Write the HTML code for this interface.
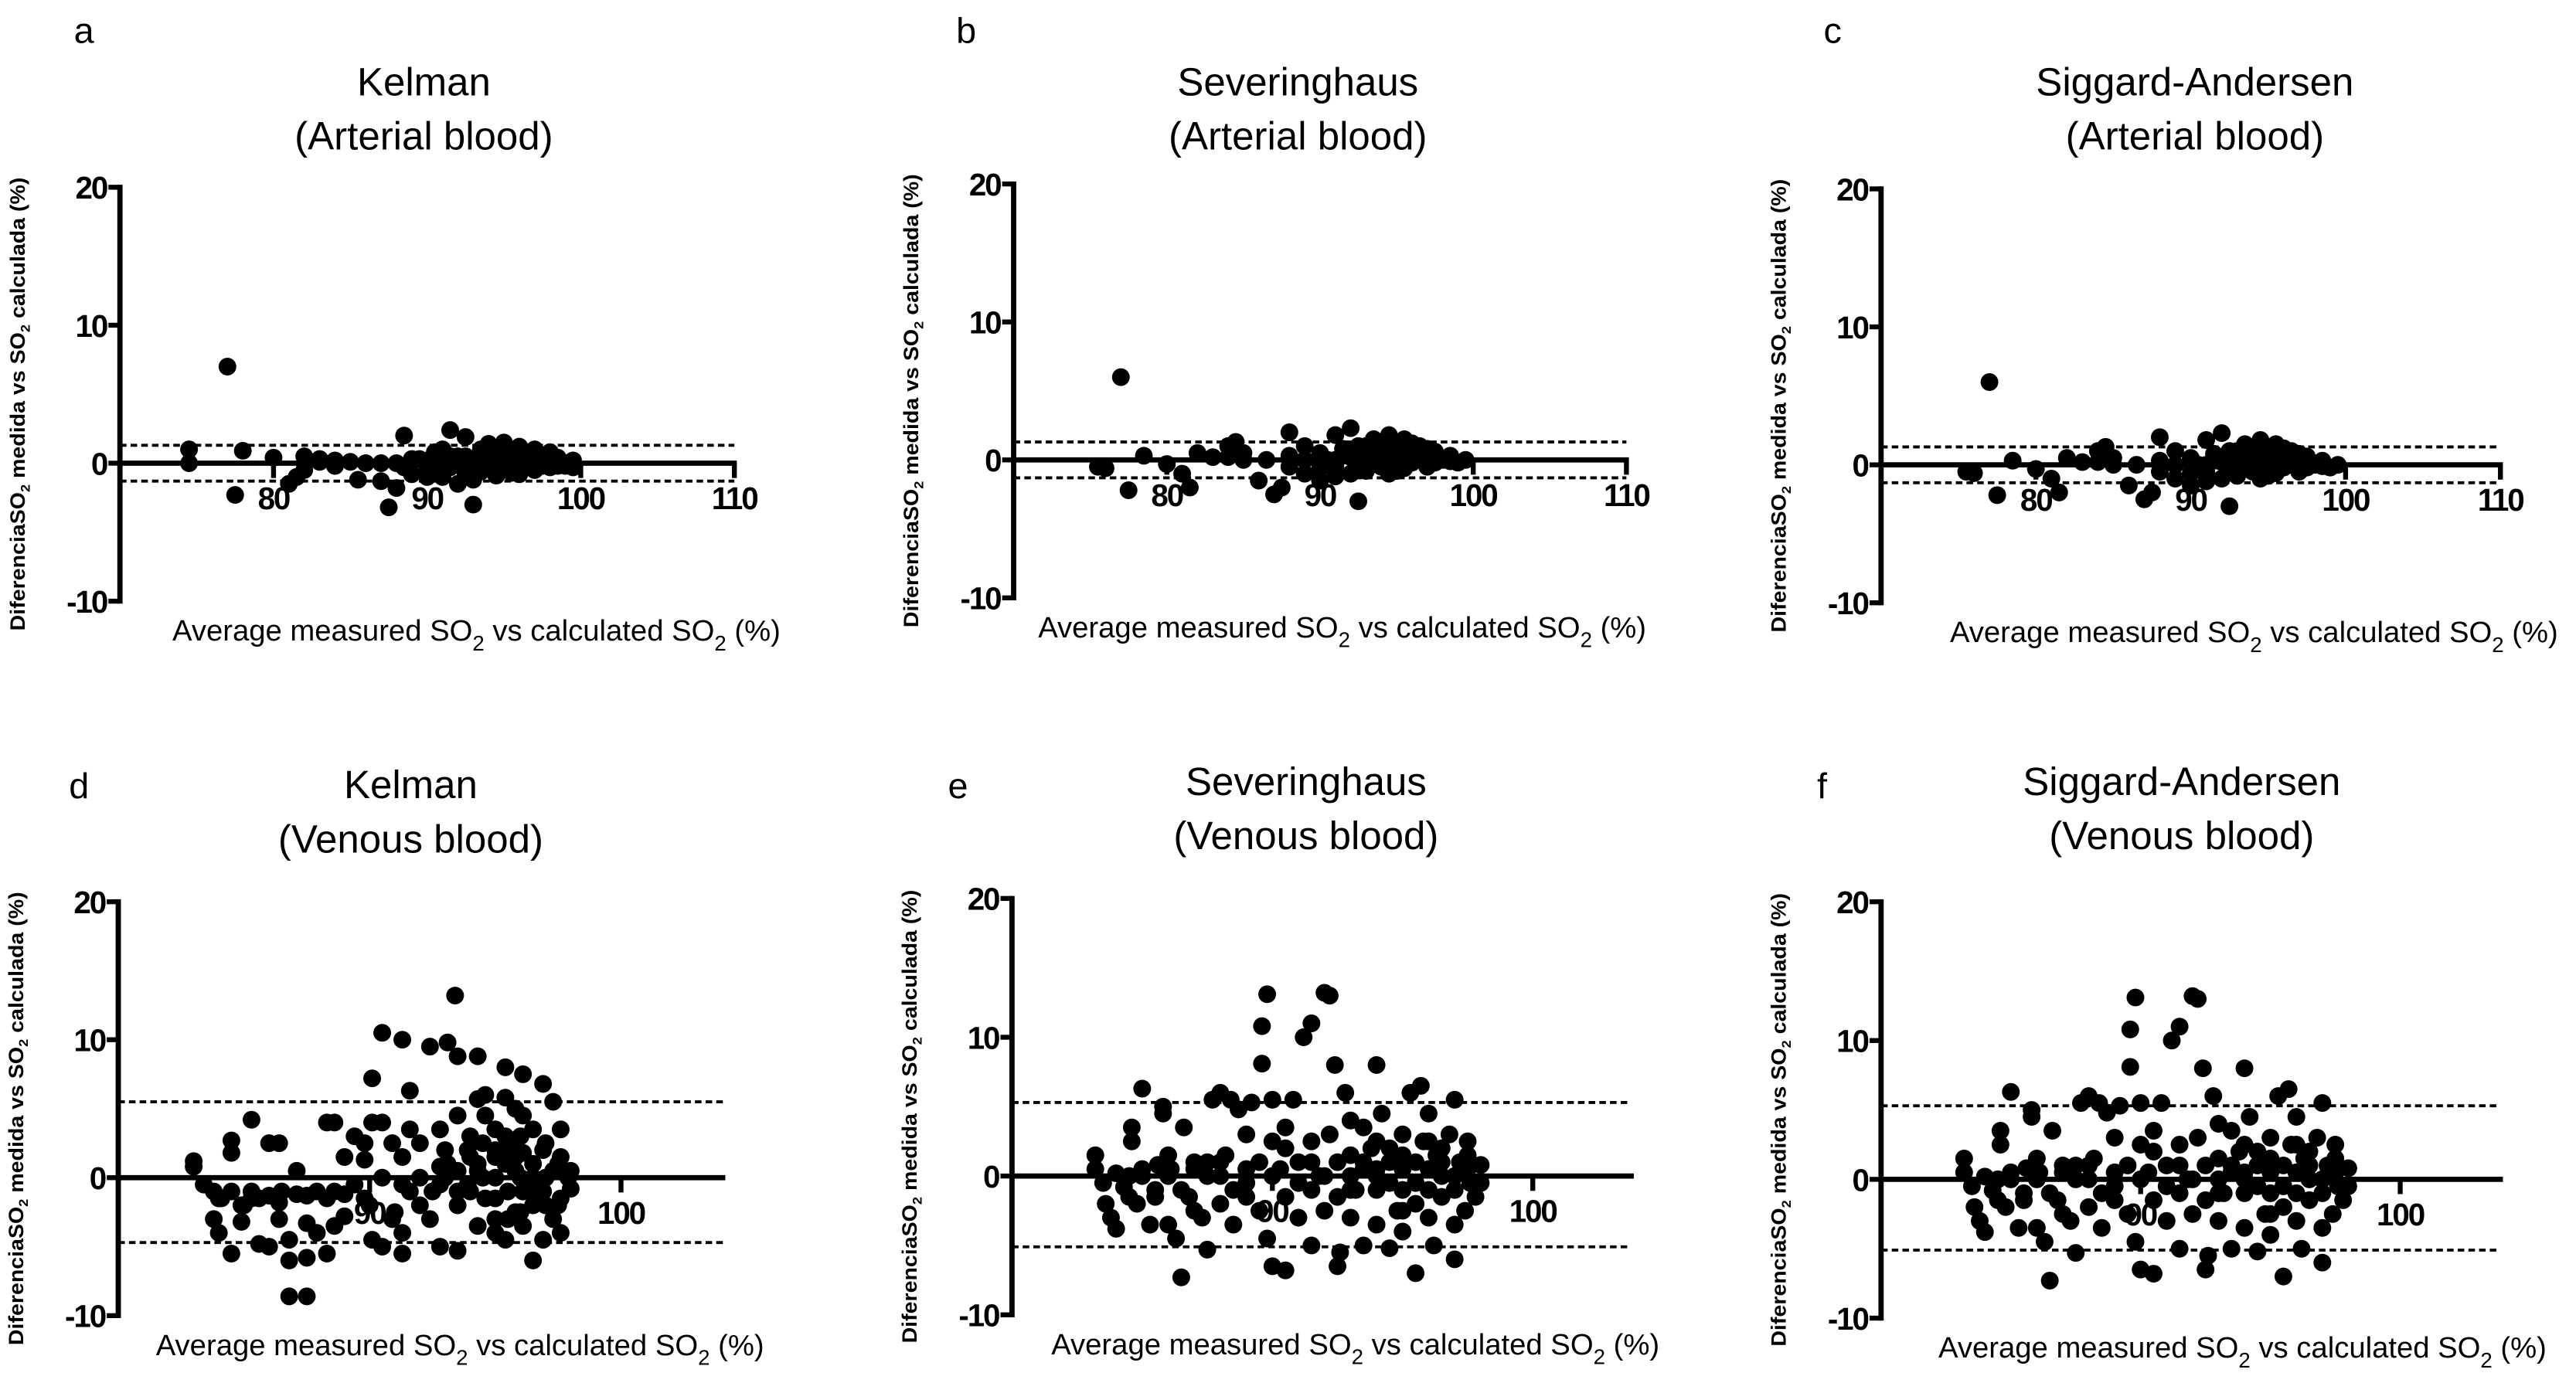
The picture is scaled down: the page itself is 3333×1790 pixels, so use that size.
<!DOCTYPE html>
<html><head><meta charset="utf-8"><style>
html,body{margin:0;padding:0;background:#fff;}
svg{display:block;}
text{font-family:"Liberation Sans",sans-serif;fill:#000;}
</style></head><body>
<svg id="fig" width="3333" height="1790" viewBox="0 0 1568 842" preserveAspectRatio="none" xmlns="http://www.w3.org/2000/svg"></svg>
<script>
// ---- data (x = average SO2 %, y = difference %) ----
const yTicks = [20, 10, 0, -10];
const arterialXTicks = [80, 90, 100, 110];
const venousXTicks = [90, 100];
const aLimits = [1.3, -1.3];
const bLimits = [1.3, -1.3];
const cLimits = [1.3, -1.3];
const dLimits = [5.5, -4.7];
const eLimits = [5.3, -5.1];
const fLimits = [5.3, -5.1];
const aPoints = [[74.5,1],[74.5,0],[77,7],[77.5,-2.3],[78,0.9],[80,0.4],[81,-1.5],[81.5,-1],[82,-0.5],[82,0.5],[83,0.3],[84,0.2],[85,0.1],[85.5,-1.2],[86,0],[87,-1.3],[87.5,-3.2],[88,-1.8],[88.5,-0.3],[88.5,2],[89,-0.8],[89.5,0.3],[90,-0.5],[90.5,0.8],[91,-1],[91,1],[91.5,2.4],[91.5,-0.3],[92,0.5],[92,-1.5],[92.5,1.9],[92.5,-0.8],[93,-3],[93,0.3],[93.5,1],[93.5,-0.6],[94,0.2],[94,1.4],[94.5,-0.9],[94.5,0.6],[95,1.5],[95,-0.3],[95.5,0.9],[95.5,-0.7],[96,0.3],[96,1.2],[96.5,-0.2],[97,0.6],[97,-0.5],[97.5,0.1],[98,0.8],[98,-0.3],[98.5,0.4],[99,0],[99.5,0.2],[99,-0.2],[92,0],[93,0],[94,-0.3],[95,0.2],[96,-0.4],[90,0.2],[89,0.3],[91,0],[92.5,-0.2],[93.5,0.4],[90.5,0],[91.5,0.5],[92.5,0.5],[93.5,-0.3],[94.5,0],[95.5,0.3],[96.5,0.5],[97.5,-0.2],[98.5,-0.2],[99.5,-0.3],[90,-1],[91,-0.5],[93,-1.2],[94,0.8],[95,1],[96,-0.8],[97,1],[98,0.3],[88,0],[87,0],[84,-0.2],[83,0.1]];
const bPoints = [[75.5,-0.5],[76,-0.6],[77,6],[77.5,-2.2],[78.5,0.3],[80,-0.3],[81,-1],[81.5,-2],[82,0.5],[83,0.2],[84,1],[84.5,1.3],[85,0.5],[86,-1.5],[86.5,0],[87,-2.5],[87.5,-2],[88,2],[88,-0.5],[89,1],[89,-1],[90,0.5],[90,-1.5],[91,1.8],[91,-0.5],[91.5,0.8],[92,2.3],[92,-1],[92.5,1],[92.5,-3],[93,0.3],[93,-0.8],[93.5,1.5],[94,0.5],[94,-0.5],[94.5,1.8],[94.5,-1],[95,1],[95,0],[95.5,1.5],[95.5,-0.6],[96,0.5],[96,-0.2],[96.5,1],[97,0.3],[97,-0.5],[97.5,0.6],[98,0],[98.5,0.3],[99,-0.2],[99.5,0],[93,0],[94,0],[95,0.3],[92,0.2],[91,0],[90.5,0],[91.5,0.3],[92.5,0],[93.5,-0.3],[94.5,0.3],[95.5,0.5],[96.5,0],[97.5,-0.2],[98.5,-0.1],[90,-0.6],[91,-1.2],[93,1],[94,1.2],[95,-0.8],[96,1.2],[97,0.8],[89,0],[88,0.3],[85,0],[84,0.2]];
const cPoints = [[75.5,-0.5],[76,-0.6],[77,6],[77.5,-2.2],[78.5,0.3],[80,-0.3],[81,-1],[81.5,-2],[82,0.5],[83,0.2],[84,1],[84.5,1.3],[85,0.5],[86,-1.5],[86.5,0],[87,-2.5],[87.5,-2],[88,2],[88,-0.5],[89,1],[89,-1],[90,0.5],[90,-1.5],[91,1.8],[91,-0.5],[91.5,0.8],[92,2.3],[92,-1],[92.5,1],[92.5,-3],[93,0.3],[93,-0.8],[93.5,1.5],[94,0.5],[94,-0.5],[94.5,1.8],[94.5,-1],[95,1],[95,0],[95.5,1.5],[95.5,-0.6],[96,0.5],[96,-0.2],[96.5,1],[97,0.3],[97,-0.5],[97.5,0.6],[98,0],[98.5,0.3],[99,-0.2],[99.5,0],[93,0],[94,0],[95,0.3],[92,0.2],[91,0],[90.5,0],[91.5,0.3],[92.5,0],[93.5,-0.3],[94.5,0.3],[95.5,0.5],[96.5,0],[97.5,-0.2],[98.5,-0.1],[90,-0.6],[91,-1.2],[93,1],[94,1.2],[95,-0.8],[96,1.2],[97,0.8],[89,0],[88,0.3],[85,0],[84,0.2]];
const dPoints = [[83,1.2],[83,0.8],[83.4,-0.5],[83.8,-1],[83.8,-3],[84,-4],[84.1,-1.5],[84.5,1.8],[84.5,2.7],[84.5,-5.5],[84.9,-2],[84.9,-3.2],[85.3,-1],[85.3,4.2],[85.6,-4.8],[85.6,-1.5],[86,-5],[86,2.5],[86.4,2.5],[86.4,-1.8],[86.4,-3],[86.8,-6],[86.8,-8.6],[86.8,-4.5],[87.1,-1.2],[87.1,0.5],[87.5,-5.8],[87.5,-8.6],[87.5,-3.3],[87.9,-4],[87.9,-1],[88.3,-5.5],[88.3,4],[88.6,4],[88.6,-3.5],[88.6,-1],[89,1.5],[89,-2.8],[89.4,3],[89.4,-0.5],[89.8,1.3],[89.8,2.5],[89.8,-1.5],[90.1,4],[90.1,-4.5],[90.1,7.2],[90.5,10.5],[90.5,4],[90.5,-5],[90.5,0],[90.9,2.5],[90.9,-3],[91.3,10],[91.3,1.5],[91.3,-4],[91.3,-5.5],[91.6,6.3],[91.6,3.5],[91.6,-1],[92,2.5],[92,-2],[92.4,9.5],[92.4,-3],[92.8,3.5],[92.8,-5],[92.8,0.8],[93.1,9.8],[93.1,1],[93.4,13.2],[93.5,8.8],[93.5,4.5],[93.5,-2],[93.5,-5.3],[93.9,2],[93.9,-0.5],[94.3,8.8],[94.3,5.7],[94.3,-3.5],[94.3,0.5],[94.6,4.5],[94.6,6],[94.6,-1.5],[95,2],[95,-4],[95,-3],[95,0],[95.4,8],[95.4,5.8],[95.4,3],[95.4,-4.5],[95.4,1],[95.8,-2.5],[95.8,2.5],[95.8,5],[95.8,0.5],[96.1,7.5],[96.1,4.5],[96.1,-1],[96.1,-3.5],[96.1,1.8],[96.5,-6],[96.5,3.5],[96.5,0],[96.5,-2],[96.9,6.8],[96.9,2],[96.9,-1],[96.9,-4.5],[97.3,5.5],[97.3,0.5],[97.3,-3],[97.6,3.5],[97.6,-4],[97.6,-1.5],[97.6,1.5],[97.9,0],[98,-0.8],[98,0.5],[95.8,1.5],[95,1.5],[94.3,1],[93.5,0.5],[92.8,-0.5],[92,0],[91.3,-0.5],[89,-1.2],[88.3,-1.5],[87.5,-1.3],[86,-1.3],[85.3,-1.5],[84.5,-1],[93,0],[93.5,-1],[94,1.5],[94,-1],[94.5,2.5],[94.5,0],[95,-1.5],[95.5,-1],[95.5,2],[96,0],[96,3],[96.5,1],[96.5,-1],[97,0],[97,2.5],[97.5,-2],[97.5,1],[95,3.5],[94,3],[93,2],[92.5,-1],[91,-2.5],[90,-2],[86.5,-1],[85,-2],[84,-1.5],[96,-2.5],[95.5,-3],[97,-2]];
const ePoints = [[83.2,1.5],[83.2,0.5],[83.5,-0.5],[83.6,-2],[83.8,-3],[84,-3.8],[84,0.2],[84.3,-0.8],[84.6,2.5],[84.6,3.5],[84.8,-2],[85,6.3],[85,0.5],[85.3,-3.5],[85.5,-1],[85.6,0.8],[85.8,5],[85.8,4.5],[86,-3.5],[86.1,0.5],[86.3,-4.5],[86.5,-7.3],[86.6,3.5],[86.8,-1.5],[87,1],[87,-2.5],[87.3,-3],[87.5,-5.3],[87.5,0],[87.7,5.5],[88,-2],[88,6],[88.2,1.5],[88.4,5.5],[88.5,-3.5],[88.7,4.8],[89,3],[89,-0.5],[89.2,5.3],[89.5,-2.5],[89.6,10.8],[89.6,8.1],[89.8,13.1],[89.8,-4.5],[90,2.5],[90,5.5],[90,-6.5],[90.3,0.5],[90.5,-6.8],[90.5,3.5],[90.8,5.5],[91,1],[91,-3],[91.2,10],[91.5,11],[91.5,2.5],[91.5,-5],[91.8,0],[92,13.2],[92,-2.5],[92.2,13],[92.2,3],[92.4,8],[92.5,-6.5],[92.6,-5.5],[92.8,6],[93,-3],[93,1.5],[93,4],[93.2,-1],[93.5,-5],[93.5,3.5],[93.8,2],[94,-3.5],[94,8],[94.2,4.5],[94.5,-5.2],[94.5,1],[94.8,-2.5],[95,3],[95,-4],[95,0.5],[95.3,6],[95.5,-7],[95.5,-2],[95.7,6.5],[95.8,2.5],[96,-3],[96,4.5],[96.2,-5],[96.3,1.5],[96.5,0],[96.5,-1.5],[96.8,3],[97,-3.5],[97,5.5],[97,-6],[97.2,1],[97.4,-2.5],[97.5,2.5],[97.6,-0.5],[97.8,-1.5],[98,0.8],[98,-0.5],[94,0],[93,0],[92,0],[91,-0.5],[90,0],[89,0.5],[88,0],[87,0.5],[86,0],[85,0],[84.5,0],[96,0.5],[97,0],[95,-1],[94,-1],[93.5,0.5],[92.5,1],[91.5,-1],[90.5,-1.5],[89.5,1],[88.5,-1],[87.5,1],[86.5,-1],[85.5,-1.5],[97.5,0.5],[96.5,2],[95.5,1],[94.5,-0.5],[93,-1],[93.5,1],[94,0.5],[94.5,2],[95,1.5],[95.5,-0.5],[96,-1],[96.5,1],[97,-1],[97.5,1.5],[92.5,-1.5],[91.5,1],[90.5,2],[89,-1.5],[88,1],[86,1.5],[84.5,-1.5],[95,-2.5],[94,2.5],[96,2.5]];
const fPoints = ePoints.map(p => [p[0], p[1]]);

// ---- layout ----
const NS = "http://www.w3.org/2000/svg";
const svg = document.getElementById('fig');
function mk(tag, attrs, parent){ const e=document.createElementNS(NS,tag); for(const k in attrs) e.setAttribute(k,attrs[k]); (parent||svg).appendChild(e); return e; }

const panels = [
 {id:'a', letter:'a', lx:45, ly:26, t1:'Kelman', t2:'(Arterial blood)', tcx:258, ty:58, ax:73, y20:114, y0:282, xmin:70, xmax:110, xPx0:73, xPx1:447, ticks:arterialXTicks, pts:aPoints, lim:aLimits, xtx:290},
 {id:'b', letter:'b', lx:582, ly:26, t1:'Severinghaus', t2:'(Arterial blood)', tcx:790, ty:58, ax:617, y20:112, y0:280, xmin:70, xmax:110, xPx0:617, xPx1:990, ticks:arterialXTicks, pts:bPoints, lim:bLimits, xtx:817},
 {id:'c', letter:'c', lx:1110, ly:26, t1:'Siggard-Andersen', t2:'(Arterial blood)', tcx:1336, ty:58, ax:1145, y20:115, y0:283, xmin:70, xmax:110, xPx0:1145, xPx1:1522, ticks:arterialXTicks, pts:cPoints, lim:cLimits, xtx:1372},
 {id:'d', letter:'d', lx:42, ly:486, t1:'Kelman', t2:'(Venous blood)', tcx:250, ty:486, ax:72, y20:549, y0:717, xmin:80, xmax:100, xPx0:72, xPx1:378, xEnd:440, ticks:venousXTicks, pts:dPoints, lim:dLimits, xtx:280},
 {id:'e', letter:'e', lx:577, ly:486, t1:'Severinghaus', t2:'(Venous blood)', tcx:795, ty:484, ax:616, y20:547, y0:716, xmin:80, xmax:100, xPx0:616, xPx1:933, xEnd:993, ticks:venousXTicks, pts:ePoints, lim:eLimits, xtx:825},
 {id:'f', letter:'f', lx:1106, ly:486, t1:'Siggard-Andersen', t2:'(Venous blood)', tcx:1328, ty:484, ax:1145, y20:549, y0:718, xmin:80, xmax:100, xPx0:1145, xPx1:1461, xEnd:1522, ticks:venousXTicks, pts:fPoints, lim:fLimits, xtx:1365}
];

panels.forEach(P => {
  const g = mk('g', {});
  
  
  const ys = v => P.y0 - (P.y0 - P.y20) * v / 20;
  const xs = v => P.xPx0 + (P.xPx1 - P.xPx0) * (v - P.xmin) / (P.xmax - P.xmin);
  const xEnd = P.xEnd !== undefined ? P.xEnd : P.xPx1;

  const L = mk('text', {x:P.lx, y:P.ly, 'font-size':22}, g); L.textContent = P.letter;
   
  const T1 = mk('text', {x:P.tcx, y:P.ty, 'font-size':24, 'text-anchor':'middle'}, g); T1.textContent = P.t1;
   
  const T2 = mk('text', {x:P.tcx, y:P.ty+33, 'font-size':24, 'text-anchor':'middle'}, g); T2.textContent = P.t2;
   

  const yTop = ys(20), yBot = ys(-10);
  const ya = mk('line', {x1:P.ax, y1:yTop-1.5, x2:P.ax, y2:yBot+1.5, stroke:'#000', 'stroke-width':3.2}, g);
   
  yTicks.forEach(v => {
    mk('line', {x1:P.ax-7, y1:ys(v), x2:P.ax, y2:ys(v), stroke:'#000', 'stroke-width':3}, g);
    const t = mk('text', {x:P.ax-8, y:ys(v)+7, 'font-size':19, 'font-weight':'bold', 'text-anchor':'end', 'letter-spacing':'-1'}, g);
    t.textContent = v;
     
  });
  const yt = mk('text', {x:0, y:0, 'font-size':12.5, 'font-weight':'bold', 'text-anchor':'middle', transform:`translate(${P.ax-58},${(yTop+yBot)/2+6}) rotate(-90)`, textLength:276, lengthAdjust:'spacingAndGlyphs'}, g);
  yt.innerHTML = 'DiferenciaSO<tspan font-size="8" dy="3">2</tspan><tspan dy="-3"> medida vs SO</tspan><tspan font-size="8" dy="3">2</tspan><tspan dy="-3"> calculada (%)</tspan>';
   

  P.ticks.forEach(v => {
    mk('line', {x1:xs(v), y1:ys(0), x2:xs(v), y2:ys(0)+9, stroke:'#000', 'stroke-width':3}, g);
    const t = mk('text', {x:xs(v), y:ys(0)+28, 'font-size':19, 'font-weight':'bold', 'text-anchor':'middle', 'letter-spacing':'-1'}, g);
    t.textContent = v;
     
  });

  P.lim.forEach(v => {
    const l = mk('line', {x1:P.ax, y1:ys(v), x2:xEnd, y2:ys(v), stroke:'#000', 'stroke-width':1.8, 'stroke-dasharray':'4 2.5'}, g);
     
  });

  P.pts.forEach(p => {
    const c = mk('circle', {cx:xs(p[0]), cy:ys(p[1]), r:5.4, fill:'#000'}, g);
     
  });

  const xa = mk('line', {x1:P.ax, y1:ys(0), x2:xEnd+1.5, y2:ys(0), stroke:'#000', 'stroke-width':3.2}, g);
   

  const xt = mk('text', {x:P.xtx, y:yBot+24, 'font-size':18, 'text-anchor':'middle'}, g);
  xt.innerHTML = 'Average measured SO<tspan font-size="13" dy="6">2</tspan><tspan dy="-6"> vs calculated SO</tspan><tspan font-size="13" dy="6">2</tspan><tspan dy="-6"> (%)</tspan>';
   
});
</script>
</body></html>
